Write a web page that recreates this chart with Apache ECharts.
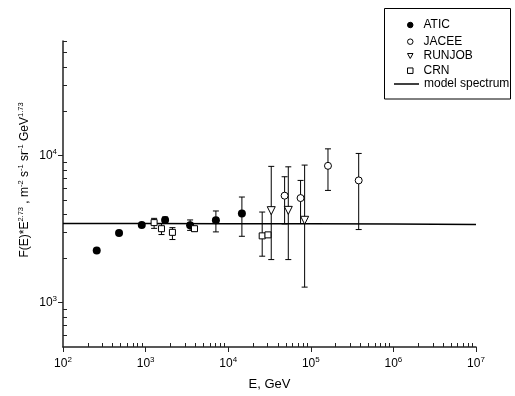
<!DOCTYPE html>
<html><head><meta charset="utf-8">
<script src="https://cdn.jsdelivr.net/npm/echarts@6/dist/echarts.min.js"></script>
<style>html,body{margin:0;padding:0;background:#fff}#c{width:515px;height:396px}</style>
</head><body><div id="c"></div>
<script>
// ---- data ----
const aticE  = [256, 477, 899, 1722, 3459, 7096, 14650];
const aticF  = [2260, 2978, 3375, 3648, 3357, 3630, 4030];
const aticLo = [null, null, null, 3480, 3100, 3027, 2826];
const aticHi = [null, null, null, 3820, 3650, 4200, 5224];

const jaceeE  = [48200, 75200, 161400, 380000];
const jaceeF  = [5335, 5140, 8510, 6775];
const jaceeLo = [3430, 3450, 5794, 3140];
const jaceeHi = [7175, 6775, 11100, 10330];

const runjobE  = [33200, 53400, 84200];
const runjobF  = [4220, 4240, 3630];
const runjobLo = [1963, 1963, 1276];
const runjobHi = [8440, 8380, 8610];

const crnE  = [1268, 1556, 2113, 3907, 25800, 30300];
const crnF  = [3500, 3183, 3006, 3183, 2845, 2890];
const crnLo = [3200, 2904, 2686, 3050, 2070, null];
const crnHi = [3742, 3445, 3236, 3300, 4130, null];

const modelE = [100, 1000, 10000, 100000, 1000000, 10000000];
const modelF = [3450, 3450, 3445, 3440, 3430, 3400];

const legendNames = ['ATIC', 'JACEE', 'RUNJOB', 'CRN', 'model spectrum'];

const xMajor = [100, 1000, 10000, 100000, 1000000, 10000000];
const yMajor = [1000, 10000];
const xMin = 100, xMax = 10000000, yMin = 500, yMax = 60000;

// ---- helpers ----
function pts(E, F) { return E.map((e, i) => [e, F[i]]); }
function bars(E, Lo, Hi) {
  const out = [];
  E.forEach((e, i) => { if (Lo[i] != null) out.push([e, Lo[i], Hi[i]]); });
  return out;
}
function minorVals(lo, hi) {
  const out = [];
  for (let d = Math.floor(Math.log10(lo)); d < Math.ceil(Math.log10(hi)); d++) {
    for (let m = 2; m <= 9; m++) {
      const v = m * Math.pow(10, d);
      if (v > lo && v <= hi) out.push(v);
    }
  }
  return out;
}
const FONT = '"Liberation Sans", Arial, sans-serif';
const pow10Label = v => {
  const e = Math.log10(v);
  if (Math.abs(e - Math.round(e)) > 1e-6) return '';
  return '{b|10}{s|' + Math.round(e) + '}';
};
const labRich = {
  b: { fontSize: 12, fontFamily: FONT, color: '#000', lineHeight: 16 },
  s: { fontSize: 8, fontFamily: FONT, color: '#000', verticalAlign: 'top', lineHeight: 10 }
};

const errRender = function (params, api) {
  const x = api.value(0), lo = api.value(1), hi = api.value(2);
  const p1 = api.coord([x, hi]), p2 = api.coord([x, lo]);
  const w = 3;
  const st = { stroke: '#000', lineWidth: 1 };
  return {
    type: 'group',
    children: [
      { type: 'line', shape: { x1: p1[0], y1: p1[1], x2: p2[0], y2: p2[1] }, style: st },
      { type: 'line', shape: { x1: p1[0] - w, y1: p1[1], x2: p1[0] + w, y2: p1[1] }, style: st },
      { type: 'line', shape: { x1: p2[0] - w, y1: p2[1], x2: p2[0] + w, y2: p2[1] }, style: st }
    ]
  };
};
function errSeries(E, Lo, Hi) {
  return {
    type: 'custom', renderItem: errRender, data: bars(E, Lo, Hi),
    encode: { x: 0, y: [1, 2] }, z: 2, silent: true, clip: false, legendHoverLink: false
  };
}

// legend: one component per entry so each icon keeps its own size
const legendCenters = [25, 41.7, 56, 70.7, 84];
const legendIcons = ['circle', 'circle', 'path://M0,0L10,0L5,9Z', 'rect', 'rect'];
function legendFor(i) {
  const isLine = i === 4;
  const iw = isLine ? 25 : 5.5, ih = isLine ? 1.5 : 5.5;
  return {
    orient: 'vertical', left: isLine ? 394 : 407, top: legendCenters[i] - 6,
    padding: 0, itemWidth: iw, itemHeight: ih, selectedMode: false,
    itemStyle: { borderWidth: isLine ? 0 : 1 },
    textStyle: { fontSize: 12, fontFamily: FONT, color: '#000', lineHeight: 12,
                 padding: [0, 0, 0, isLine ? 0 : 5.5] },
    data: [{ name: legendNames[i], icon: legendIcons[i] }]
  };
}

const axisLineStyle = { color: '#222', width: 1.5 };

const chart = echarts.init(document.getElementById('c'), null, { renderer: 'canvas' });
chart.setOption({
  animation: false,
  backgroundColor: '#fff',
  grid: { left: 63, right: 39, top: 41, bottom: 48, containLabel: false },
  xAxis: [{
    type: 'log', logBase: 10, min: xMin, max: xMax, position: 'bottom',
    name: 'E, GeV', nameLocation: 'middle', nameGap: 31,
    nameTextStyle: { fontSize: 13, fontFamily: FONT, color: '#000' },
    axisLine: { show: true, lineStyle: axisLineStyle },
    axisTick: { show: true, inside: false, length: 5, customValues: xMajor, lineStyle: { color: '#222', width: 1 } },
    axisLabel: { show: true, margin: 9, customValues: xMajor, formatter: pow10Label, rich: labRich },
    splitLine: { show: false }, minorTick: { show: false }
  }, {
    type: 'log', logBase: 10, min: xMin, max: xMax, position: 'bottom', offset: 0,
    axisLine: { show: false },
    axisTick: { show: true, inside: true, length: 4, customValues: minorVals(xMin, xMax), lineStyle: { color: '#222', width: 1 } },
    axisLabel: { show: false }, splitLine: { show: false }
  }],
  yAxis: [{
    type: 'log', logBase: 10, min: yMin, max: yMax, position: 'left',
    axisLine: { show: true, lineStyle: axisLineStyle },
    axisTick: { show: true, inside: false, length: 5, customValues: yMajor, lineStyle: { color: '#222', width: 1 } },
    axisLabel: { show: true, margin: 6, customValues: yMajor, formatter: pow10Label, rich: labRich },
    splitLine: { show: false }, minorTick: { show: false }
  }, {
    type: 'log', logBase: 10, min: yMin, max: yMax, position: 'left', offset: 0,
    axisLine: { show: false },
    axisTick: { show: true, inside: true, length: 4, customValues: minorVals(yMin, yMax), lineStyle: { color: '#222', width: 1 } },
    axisLabel: { show: false }, splitLine: { show: false }
  }],
  legend: [0, 1, 2, 3, 4].map(legendFor),
  graphic: [{
    type: 'rect', shape: { x: 384.5, y: 8.5, width: 126, height: 90.5 },
    style: { fill: null, stroke: '#000', lineWidth: 1 }, z: 100, silent: true
  }, {
    type: 'text', x: 25, y: 180, rotation: Math.PI / 2,
    style: {
      text: '{t|F(E)*E}{s|2.73}{t| , m}{s|-2}{t| s}{s|-1}{t| sr}{s|-1}{t| GeV}{s|1.73}',
      align: 'center', verticalAlign: 'middle',
      rich: {
        t: { fontSize: 12, fontFamily: FONT, fill: '#000', lineHeight: 17 },
        s: { fontSize: 7.5, fontFamily: FONT, fill: '#000', verticalAlign: 'top', lineHeight: 10 }
      }
    }
  }],
  series: [
    errSeries(aticE, aticLo, aticHi),
    errSeries(jaceeE, jaceeLo, jaceeHi),
    errSeries(runjobE, runjobLo, runjobHi),
    errSeries(crnE, crnLo, crnHi),
    {
      name: 'model spectrum', type: 'line', data: pts(modelE, modelF), symbol: 'none',
      lineStyle: { color: '#000', width: 1.5 }, itemStyle: { color: '#000' }, z: 1
    },
    {
      name: 'ATIC', type: 'scatter', data: pts(aticE, aticF), symbol: 'circle', symbolSize: 8,
      itemStyle: { color: '#000', borderColor: '#000', borderWidth: 0, opacity: 1 }, z: 4
    },
    {
      name: 'JACEE', type: 'scatter', data: pts(jaceeE, jaceeF), symbol: 'circle', symbolSize: 7,
      itemStyle: { color: '#fff', borderColor: '#000', borderWidth: 1, opacity: 1 }, z: 4
    },
    {
      name: 'RUNJOB', type: 'scatter', data: pts(runjobE, runjobF), symbol: 'triangle', symbolRotate: 180, symbolSize: 8,
      itemStyle: { color: '#fff', borderColor: '#000', borderWidth: 1, opacity: 1 }, z: 4
    },
    {
      name: 'CRN', type: 'scatter', data: pts(crnE, crnF), symbol: 'rect', symbolSize: 6,
      itemStyle: { color: '#fff', borderColor: '#000', borderWidth: 1, opacity: 1 }, z: 4
    }
  ]
});
</script></body></html>
